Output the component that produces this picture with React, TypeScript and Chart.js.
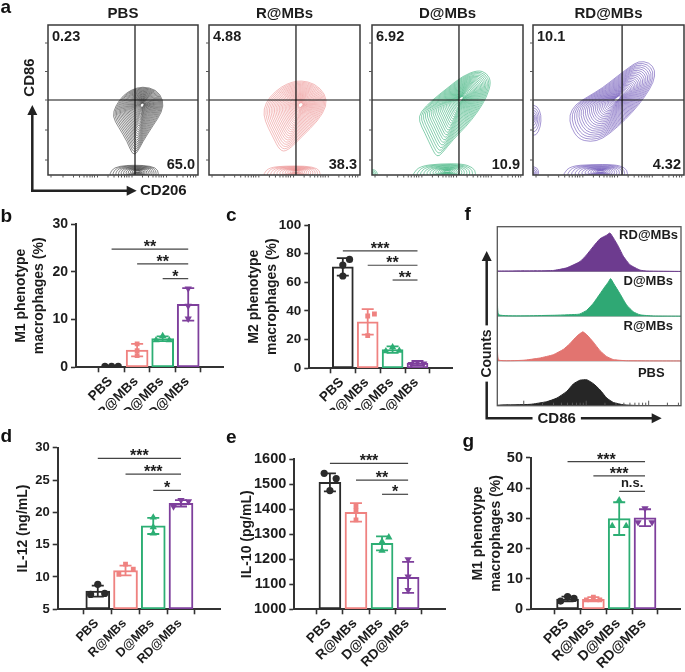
import React, { useEffect, useRef } from 'react';
import { Chart, registerables } from 'chart.js';
Chart.register(...registerables);

const FONT = 'Arial, "Liberation Sans", Helvetica, sans-serif';
const INK = '#1c1c1c';
const AXIS = '#333333';

// ---------- shared categories ----------
const groups = ['PBS', 'R@MBs', 'D@MBs', 'RD@MBs'];
const barColors = ['#2b2b2b', '#EF8280', '#2DAE74', '#7E3F9C'];
const pointStyles = ['circle', 'rect', 'triangle', 'triangle'];
const pointRotations = [0, 0, 0, 180];

// ---------- panel b : M1 (%) ----------
const bMean = [0.2, 3.6, 6.0, 13.2];
const bSD = [0.1, 1.3, 0.5, 3.4];
const bPoints = [[0.2, 0.2, 0.2], [4.9, 3.5, 2.45], [5.7, 6.6, 5.7], [16.5, 12.9, 10.2]];
const bJitter = [[-0.26, 0, 0.26], [0, 0, 0], [-0.26, 0, 0.26], [0, 0, 0]];
const bSigFrom = [1, 2, 3];
const bSigTo = [4, 4, 4];
const bSigY = [24.8, 21.7, 18.6];
const bSigText = ['**', '**', '*'];

// ---------- panel c : M2 (%) ----------
const cMean = [70.8, 32.4, 13.0, 3.6];
const cSD = [6.1, 8.9, 2.3, 1.5];
const cPoints = [[76, 72, 64.4], [37.9, 36.5, 22.8], [14.7, 11.9, 12.3], [4.4, 3.0, 3.3]];
const cJitter = [[0.27, 0, 0], [0.27, 0, 0], [0, -0.27, 0.27], [0, -0.25, 0.25]];
const cSigFrom = [1, 2, 3];
const cSigTo = [4, 4, 4];
const cSigY = [81.9, 71.9, 61.6];
const cSigText = ['***', '**', '**'];

// ---------- panel d : IL-12 ----------
const dMean = [7.8, 11.0, 17.9, 21.4];
const dSD = [0.85, 0.75, 1.25, 0.5];
const dPoints = [[8.87, 7.3, 7.45], [12.0, 10.4, 11.2], [19.2, 17.7, 16.75], [20.9, 21.9, 21.7]];
const dJitter = [[0, -0.26, 0.25], [0, -0.24, 0.28], [0, 0, 0], [-0.27, 0, 0.27]];
const dSigFrom = [1, 2, 3];
const dSigTo = [4, 4, 4];
const dSigY = [28.35, 25.9, 23.4];
const dSigText = ['***', '***', '*'];

// ---------- panel e : IL-10 ----------
const eMean = [1508, 1388, 1264, 1128];
const eSD = [36, 37, 28, 62];
const ePoints = [[1544, 1523, 1475], [1413, 1396, 1358], [1271, 1288, 1235], [1200, 1131, 1077]];
const eJitter = [[-0.22, 0.24, 0], [0, 0, 0], [0, 0.26, 0], [0, 0, 0]];
const eSigFrom = [1, 2, 3];
const eSigTo = [4, 4, 4];
const eSigY = [1584, 1517, 1460];
const eSigText = ['***', '**', '*'];

// ---------- panel g : M1 (%) ----------
const gMean = [3.4, 3.3, 29.9, 30.2];
const gSD = [0.8, 0.7, 5.4, 2.8];
const gPoints = [[4.2, 2.7, 3.6], [4.0, 3.1, 3.1], [36.0, 27.5, 27.5], [33.3, 28.7, 28.7]];
const gJitter = [[0, -0.27, 0.25], [0, -0.27, 0.25], [0, -0.27, 0.27], [0, -0.27, 0.27]];
const gSigFrom = [1, 2, 3];
const gSigTo = [4, 4, 4];
const gSigY = [48.7, 44, 38.9];
const gSigText = ['***', '***', 'n.s.'];

// ---------- panel a : flow cytometry (CD206 x, CD86 y; 0-100 display units) ----------
const flowTopLeft = ['0.23', '4.88', '6.92', '10.1'];
const flowBottomRight = ['65.0', '38.3', '10.9', '4.32'];
const flowGateX = [58, 57.6, 57.6, 59];
const flowGateY = 50;
const flowColors = ['#2a2a2a', '#E98585', '#22A86C', '#5B40AE'];
const flowYTicks = [10, 30, 50, 69, 88];
const flowXTicks = [2, 10, 17, 21, 24, 26, 28, 29.5, 31, 33, 40, 44, 47, 49, 51, 52.5, 54, 56, 63, 67, 70, 72, 74, 75.5, 77, 79, 86, 90, 93, 95, 97, 98.5];

const flowPbsCell = [[63, 59], [72, 57], [77, 50], [76, 42], [70, 33], [63, 22], [59, 14], [56, 14], [53, 22], [47, 32], [43, 39], [45, 46], [50, 53], [56, 57]];
const flowPbsCore = [63, 47];
const flowPbsFloor = [[41, 1], [44, 5], [52, 6.5], [64, 6.5], [72, 5], [74, 1], [72, -3], [42, -3]];
const flowPbsFloorCore = [60, 2.5];

const flowRCell = [[61, 63], [70, 61], [77, 54], [78, 46], [72, 36], [62, 26], [52, 16], [47, 16], [42, 26], [37, 36], [36, 44], [40, 52], [48, 59], [55, 62]];
const flowRCore = [61, 47];
const flowRFloor = [[36, 1], [40, 5], [50, 6], [64, 6], [72, 4.5], [74, 1], [72, -3], [37, -3]];
const flowRFloorCore = [58, 2.5];

const flowDCell = [[70, 70], [76, 68], [79, 62], [76, 52], [70, 42], [62, 32], [54, 24], [46, 14], [43, 12], [40, 17], [35, 28], [31, 36], [32, 42], [40, 50], [50, 58], [60, 66]];
const flowDCore = [59, 51];
const flowDFloor = [[27, 1], [32, 6], [45, 7.5], [60, 7.5], [67, 5], [69, 1], [67, -3], [28, -3]];
const flowDFloorCore = [50, 2.5];
const flowDCorner = [[-2, 4], [2, 3.5], [4, 1], [2, -2], [-2, -2]];
const flowDCornerCore = [0, 1];

const flowRdCell = [[70, 76], [77, 75], [81, 70], [80, 62], [74, 52], [66, 42], [56, 32], [46, 24], [38, 22], [30, 24], [25, 32], [24, 40], [28, 47], [36, 52], [46, 58], [56, 66], [64, 72]];
const flowRdCore = [56, 51];
const flowRdFloor = [[20, 1], [25, 6], [38, 7], [54, 7], [61, 5], [63, 1], [61, -3], [21, -3]];
const flowRdFloorCore = [45, 2.5];
const flowRdSide = [[-2, 47], [3, 46], [5.5, 40], [5, 32], [2, 26], [-2, 27]];
const flowRdSideCore = [0, 38];
const flowRdCorner = [[-2, 6], [3, 5], [4, 1], [2, -2], [-2, -2]];
const flowRdCornerCore = [0, 1];

const flowBlobs = [
  [{ pts: flowPbsCell, core: flowPbsCore, n: 26 }, { pts: flowPbsFloor, core: flowPbsFloorCore, n: 12 }],
  [{ pts: flowRCell, core: flowRCore, n: 26 }, { pts: flowRFloor, core: flowRFloorCore, n: 12 }],
  [{ pts: flowDCell, core: flowDCore, n: 26 }, { pts: flowDFloor, core: flowDFloorCore, n: 12 }, { pts: flowDCorner, core: flowDCornerCore, n: 4 }],
  [{ pts: flowRdCell, core: flowRdCore, n: 26 }, { pts: flowRdFloor, core: flowRdFloorCore, n: 12 }, { pts: flowRdSide, core: flowRdSideCore, n: 6 }, { pts: flowRdCorner, core: flowRdCornerCore, n: 5 }],
];

// ---------- panel f : CD86 histograms (x 0-100, height as fraction of lane) ----------
const histLaneNames = ['PBS', 'R@MBs', 'D@MBs', 'RD@MBs'];
const histColors = ['#262626', '#E27470', '#2FA874', '#6D3B8F'];
const histXPbs = [0, 1.5, 17.8, 26.9, 32.4, 37.8, 41.5, 45, 48.7, 52.4, 56, 59.6, 63.3, 68.7, 76, 100];
const histYPbs = [0.01, 0.015, 0.03, 0.09, 0.17, 0.32, 0.49, 0.57, 0.58, 0.49, 0.35, 0.17, 0.07, 0.02, 0.005, 0];
const histXR = [0, 0.8, 14, 23, 30.5, 36, 39.6, 43.2, 46.5, 48.6, 52.3, 55.9, 59.5, 63.2, 70.4, 100];
const histYR = [0.31, 0.02, 0.015, 0.065, 0.14, 0.26, 0.39, 0.55, 0.65, 0.59, 0.42, 0.23, 0.1, 0.03, 0.005, 0];
const histXD = [0, 0.8, 30, 43.2, 45, 48.6, 52.3, 55.9, 58.6, 60.4, 61.7, 63.2, 66.8, 70.4, 74, 77.7, 84.9, 100];
const histYD = [0.4, 0.03, 0.02, 0.04, 0.05, 0.13, 0.29, 0.5, 0.66, 0.76, 0.84, 0.74, 0.5, 0.25, 0.1, 0.03, 0.005, 0];
const histXRd = [0, 30, 37.7, 45, 48.6, 52.3, 55.9, 59.5, 61.3, 63.2, 65.9, 68.6, 72.2, 77.7, 81.3, 100];
const histYRd = [0.01, 0.02, 0.08, 0.22, 0.37, 0.56, 0.73, 0.81, 0.86, 0.75, 0.56, 0.34, 0.15, 0.03, 0.01, 0];
const histTicks = [14.4, 24.6, 30.6, 34.9, 38.2, 40.9, 43.1, 45.1, 46.8, 48.4, 58.6, 64.6, 68.9, 72.2, 74.9, 77.1, 79.1, 80.8, 82.4, 92.6, 98.6];
const histMajorTicks = [14.4, 48.4, 82.4];

// ---------- helpers ----------
function drawLetter(ctx: CanvasRenderingContext2D, ch: string, x: number, y: number) {
  ctx.save();
  ctx.fillStyle = '#111';
  ctx.font = `bold 19px ${FONT}`;
  ctx.textAlign = 'left';
  ctx.textBaseline = 'alphabetic';
  ctx.fillText(ch, x, y);
  ctx.restore();
}

function smoothClosed(ctx: CanvasRenderingContext2D, pts: number[][]) {
  const n = pts.length;
  const mid = (a: number[], b: number[]) => [(a[0] + b[0]) / 2, (a[1] + b[1]) / 2];
  ctx.beginPath();
  const m0 = mid(pts[n - 1], pts[0]);
  ctx.moveTo(m0[0], m0[1]);
  for (let i = 0; i < n; i++) {
    const p = pts[i];
    const m = mid(p, pts[(i + 1) % n]);
    ctx.quadraticCurveTo(p[0], p[1], m[0], m[1]);
  }
  ctx.closePath();
  ctx.stroke();
}

function arrowHead(ctx: CanvasRenderingContext2D, tipX: number, tipY: number, dir: 'up' | 'right', len = 9, half = 4.5) {
  ctx.beginPath();
  if (dir === 'up') {
    ctx.moveTo(tipX, tipY);
    ctx.lineTo(tipX - half, tipY + len);
    ctx.lineTo(tipX + half, tipY + len);
  } else {
    ctx.moveTo(tipX, tipY);
    ctx.lineTo(tipX - len, tipY - half);
    ctx.lineTo(tipX - len, tipY + half);
  }
  ctx.closePath();
  ctx.fill();
}

function ChartCanvas({ left, top, width, height, make }: any) {
  const ref = useRef<HTMLCanvasElement | null>(null);
  useEffect(() => {
    const chart = new Chart(ref.current as HTMLCanvasElement, make());
    return () => chart.destroy();
  }, []);
  return (
    <canvas
      ref={ref}
      width={width}
      height={height}
      style={{ position: 'absolute', left, top, width, height }}
    />
  );
}

// ---------- bar panel ----------
function barConfig(p: any) {
  const L = p.layout;
  const extras = {
    id: 'barExtras',
    afterDatasetDraw(chart: any, args: any) {
      if (args.index !== 0) return;
      const { ctx, scales } = chart;
      const x = scales.x, y = scales.y;
      ctx.save();
      p.mean.forEach((m: number, i: number) => {
        const px = x.getPixelForValue(i + 1);
        const top = y.getPixelForValue(m + p.sd[i]);
        const bot = y.getPixelForValue(Math.max(m - p.sd[i], p.yMin));
        ctx.strokeStyle = barColors[i];
        ctx.lineWidth = 1.8;
        ctx.beginPath();
        ctx.moveTo(px, top); ctx.lineTo(px, bot);
        ctx.moveTo(px - 6, top); ctx.lineTo(px + 6, top);
        if (m - p.sd[i] > p.yMin) { ctx.moveTo(px - 6, bot); ctx.lineTo(px + 6, bot); }
        ctx.stroke();
      });
      ctx.restore();
    },
    afterDraw(chart: any) {
      const { ctx, scales, chartArea } = chart;
      const x = scales.x, y = scales.y;
      ctx.save();
      // significance brackets
      p.sigFrom.forEach((f: number, i: number) => {
        const x1 = x.getPixelForValue(f);
        const x2 = x.getPixelForValue(p.sigTo[i]);
        const py = y.getPixelForValue(p.sigY[i]);
        ctx.strokeStyle = '#444';
        ctx.lineWidth = 1.2;
        ctx.beginPath(); ctx.moveTo(x1, py); ctx.lineTo(x2, py); ctx.stroke();
        ctx.fillStyle = INK;
        ctx.textAlign = 'center';
        ctx.textBaseline = 'alphabetic';
        if (p.sigText[i] === 'n.s.') {
          ctx.font = `bold 13px ${FONT}`;
          ctx.fillText(p.sigText[i], (x1 + x2) / 2, py - 4);
        } else {
          ctx.font = `bold 16px ${FONT}`;
          ctx.fillText(p.sigText[i], (x1 + x2) / 2, py + 3);
        }
      });
      // rotated category labels
      ctx.fillStyle = INK;
      ctx.font = `bold ${L.xfs}px ${FONT}`;
      ctx.textAlign = 'right';
      ctx.textBaseline = 'middle';
      groups.forEach((g, i) => {
        const px = x.getPixelForValue(i + 1);
        ctx.save();
        ctx.translate(px - 1, chartArea.bottom + 12);
        ctx.rotate(-Math.PI / 4);
        ctx.fillText(g, 0, 0);
        ctx.restore();
      });
      ctx.restore();
      drawLetter(ctx, p.letter, L.letterX, L.letterY);
    },
  };
  const tickFont = { family: FONT, size: L.fs, weight: 'bold' as const };
  return {
    type: 'bar',
    data: {
      datasets: [
        {
          type: 'bar',
          data: p.mean.map((m: number, i: number) => ({ x: i + 1, y: m })),
          backgroundColor: '#ffffff',
          borderColor: barColors,
          borderWidth: 2,
          borderSkipped: false,
          barThickness: L.barW,
          base: p.yMin,
          order: 2,
        },
        ...groups.map((g, i) => ({
          type: 'scatter',
          label: g,
          data: p.points[i].map((v: number, j: number) => ({ x: i + 1 + p.jitter[i][j], y: v })),
          pointStyle: pointStyles[i],
          pointRotation: pointRotations[i],
          pointRadius: i === 0 ? 3.6 : i === 1 ? 3.4 : 4.2,
          pointBackgroundColor: barColors[i],
          pointBorderColor: barColors[i],
          pointBorderWidth: 0,
          order: 1,
        })),
      ],
    },
    options: {
      responsive: false,
      animation: false,
      devicePixelRatio: 1,
      layout: { padding: { top: L.padTop, right: L.padRight, left: 0, bottom: 0 } },
      plugins: { legend: { display: false }, tooltip: { enabled: false } },
      scales: {
        x: {
          type: 'linear',
          min: L.xMin,
          max: L.xMax,
          afterBuildTicks: (ax: any) => { ax.ticks = [1, 2, 3, 4].map((v) => ({ value: v })); },
          afterFit: (ax: any) => { ax.height = L.xAxisH; },
          grid: { drawOnChartArea: false, drawTicks: true, tickLength: 5, color: AXIS, tickWidth: 1.6 },
          border: { display: true, color: AXIS, width: 2 },
          ticks: { display: false },
        },
        y: {
          min: p.yMin,
          max: p.yMax,
          afterFit: (ax: any) => { ax.width = L.axisW; },
          ticks: { stepSize: p.yStep, padding: 3, color: INK, font: tickFont, callback: (v: any) => String(v) },
          grid: { drawOnChartArea: false, drawTicks: true, tickLength: 5, color: AXIS, tickWidth: 1.6 },
          border: { display: true, color: AXIS, width: 2 },
          title: {
            display: true,
            text: p.title,
            color: INK,
            font: { family: FONT, size: 14, weight: 'bold', lineHeight: '17.5px' },
            padding: { top: L.titlePad, bottom: 0 },
          },
        },
      },
    },
    plugins: [extras],
  };
}

// ---------- flow panel ----------
function flowConfig(idx: number, padLeft: number, padRight: number, isFirst: boolean) {
  const plug = {
    id: 'flow' + idx,
    beforeDatasetsDraw(chart: any) {
      const { ctx, chartArea: ca, scales } = chart;
      const x = scales.x, y = scales.y;
      ctx.save();
      ctx.beginPath();
      ctx.rect(ca.left, ca.top, ca.width, ca.height);
      ctx.clip();
      ctx.strokeStyle = flowColors[idx];
      ctx.lineWidth = 0.65;
      ctx.globalAlpha = 0.85;
      flowBlobs[idx].forEach((b: any) => {
        for (let k = 1; k <= b.n; k++) {
          const s = 0.06 + 0.94 * Math.pow(k / b.n, 1.35);
          const pts = b.pts.map((q: number[]) => [
            x.getPixelForValue(b.core[0] + (q[0] - b.core[0]) * s),
            y.getPixelForValue(b.core[1] + (q[1] - b.core[1]) * s),
          ]);
          smoothClosed(ctx, pts);
        }
      });
      ctx.restore();
    },
    afterDraw(chart: any) {
      const { ctx, chartArea: ca, scales } = chart;
      const x = scales.x, y = scales.y;
      ctx.save();
      // gates
      ctx.strokeStyle = '#111';
      ctx.lineWidth = 1.2;
      const gx = x.getPixelForValue(flowGateX[idx]);
      const gy = y.getPixelForValue(flowGateY);
      ctx.beginPath();
      ctx.moveTo(gx, ca.top); ctx.lineTo(gx, ca.bottom);
      ctx.moveTo(ca.left, gy); ctx.lineTo(ca.right, gy);
      ctx.stroke();
      // box
      ctx.strokeStyle = '#3a3a3a';
      ctx.lineWidth = 1.5;
      ctx.strokeRect(ca.left, ca.top, ca.width, ca.height);
      // ticks
      ctx.lineWidth = 1;
      ctx.strokeStyle = '#555';
      ctx.beginPath();
      flowYTicks.forEach((v) => { const py = y.getPixelForValue(v); ctx.moveTo(ca.left, py); ctx.lineTo(ca.left - 3, py); });
      flowXTicks.forEach((v) => { const px = x.getPixelForValue(v); ctx.moveTo(px, ca.bottom); ctx.lineTo(px, ca.bottom + 2.5); });
      ctx.stroke();
      // texts
      ctx.fillStyle = INK;
      ctx.font = `bold 15px ${FONT}`;
      ctx.textAlign = 'center';
      ctx.textBaseline = 'middle';
      ctx.fillText(groups[idx], (ca.left + ca.right) / 2, ca.top - 11);
      ctx.font = `bold 14.5px ${FONT}`;
      ctx.textAlign = 'left';
      ctx.textBaseline = 'top';
      ctx.fillText(flowTopLeft[idx], ca.left + 4, ca.top + 5);
      ctx.textAlign = 'right';
      ctx.textBaseline = 'alphabetic';
      ctx.fillText(flowBottomRight[idx], ca.right - 3, ca.bottom - 6.5);
      if (isFirst) {
        ctx.strokeStyle = '#222';
        ctx.fillStyle = '#222';
        ctx.lineWidth = 2.5;
        ctx.beginPath();
        ctx.moveTo(32.3, 192); ctx.lineTo(32.3, 112);
        ctx.moveTo(31, 190.7); ctx.lineTo(128, 190.7);
        ctx.stroke();
        arrowHead(ctx, 32.3, 105, 'up', 10, 5);
        arrowHead(ctx, 136.7, 190.7, 'right', 10, 5);
        ctx.fillStyle = INK;
        ctx.font = `bold 15px ${FONT}`;
        ctx.textAlign = 'left';
        ctx.textBaseline = 'middle';
        ctx.fillText('CD206', 140, 191);
        ctx.save();
        ctx.translate(29.5, 77.5);
        ctx.rotate(-Math.PI / 2);
        ctx.textAlign = 'center';
        ctx.fillText('CD86', 0, 0);
        ctx.restore();
        drawLetter(ctx, 'a', 0.5, 12.7);
      }
      ctx.restore();
    },
  };
  return {
    type: 'scatter',
    data: { datasets: [{ data: [] as any[] }] },
    options: {
      responsive: false,
      animation: false,
      devicePixelRatio: 1,
      layout: { padding: { top: 25, bottom: 25, left: padLeft, right: padRight } },
      plugins: { legend: { display: false }, tooltip: { enabled: false } },
      scales: {
        x: { type: 'linear', min: 0, max: 100, display: false },
        y: { type: 'linear', min: 0, max: 100, display: false },
      },
    },
    plugins: [plug],
  };
}

// ---------- histogram panel ----------
function histConfig() {
  const xs = [histXPbs, histXR, histXD, histXRd];
  const ys = [histYPbs, histYR, histYD, histYRd];
  const plug = {
    id: 'hist',
    beforeDatasetsDraw(chart: any) {
      const { ctx, chartArea: ca, scales } = chart;
      ctx.save();
      ctx.strokeStyle = '#9a9a9a';
      ctx.lineWidth = 1;
      ctx.beginPath();
      [1, 2, 3].forEach((v) => { const py = scales.y.getPixelForValue(v); ctx.moveTo(ca.left, py); ctx.lineTo(ca.right, py); });
      ctx.stroke();
      ctx.restore();
    },
    afterDraw(chart: any) {
      const { ctx, chartArea: ca, scales } = chart;
      const x = scales.x;
      ctx.save();
      ctx.strokeStyle = '#555';
      ctx.lineWidth = 1.3;
      ctx.strokeRect(ca.left, ca.top, ca.width, ca.height);
      ctx.lineWidth = 1;
      ctx.beginPath();
      histTicks.forEach((v) => {
        const px = x.getPixelForValue(v);
        const len = histMajorTicks.includes(v) ? 5 : 3;
        ctx.moveTo(px, ca.bottom); ctx.lineTo(px, ca.bottom - len);
      });
      ctx.stroke();
      // lane labels
      ctx.fillStyle = INK;
      ctx.font = `bold 13px ${FONT}`;
      ctx.textBaseline = 'middle';
      ctx.textAlign = 'right';
      ctx.fillText(histLaneNames[3], ca.right - 3, ca.top + 9);
      const lane = ca.height / 4;
      ctx.fillText(histLaneNames[2], ca.right - 8, ca.top + lane + 9.5);
      ctx.fillText(histLaneNames[1], ca.right - 8, ca.top + 2 * lane + 10.5);
      ctx.textAlign = 'center';
      ctx.fillText(histLaneNames[0], ca.left + 154, ca.top + 3 * lane + 12);
      // axis arrows
      ctx.strokeStyle = '#222';
      ctx.fillStyle = '#222';
      ctx.lineWidth = 2.5;
      ctx.beginPath();
      ctx.moveTo(46.7, 224.5); ctx.lineTo(46.7, 64);
      ctx.moveTo(45.5, 223.3); ctx.lineTo(213, 223.3);
      ctx.stroke();
      arrowHead(ctx, 46.7, 56, 'up', 10, 5);
      arrowHead(ctx, 221.7, 223.3, 'right', 10, 5);
      ctx.font = `bold 15px ${FONT}`;
      ctx.textBaseline = 'middle';
      ctx.textAlign = 'center';
      const w = ctx.measureText('CD86').width;
      ctx.fillStyle = '#fff';
      ctx.fillRect(116.7 - w / 2 - 5, 214, w + 10, 18);
      ctx.fillStyle = INK;
      ctx.fillText('CD86', 116.7, 224);
      ctx.save();
      ctx.translate(46.7, 158.5);
      ctx.rotate(-Math.PI / 2);
      ctx.font = `bold 14px ${FONT}`;
      const w2 = ctx.measureText('Counts').width;
      ctx.fillStyle = '#fff';
      ctx.fillRect(-w2 / 2 - 4, -9, w2 + 8, 18);
      ctx.fillStyle = INK;
      ctx.fillText('Counts', 0, 0.5);
      ctx.restore();
      drawLetter(ctx, 'f', 24.5, 25);
      ctx.restore();
    },
  };
  return {
    type: 'line',
    data: {
      datasets: histLaneNames.map((name, i) => ({
        label: name,
        data: xs[i].map((v, j) => ({ x: v, y: i + ys[i][j] })),
        borderColor: histColors[i],
        backgroundColor: histColors[i],
        borderWidth: 1,
        pointRadius: 0,
        tension: 0.15,
        fill: { value: i },
      })),
    },
    options: {
      responsive: false,
      animation: false,
      devicePixelRatio: 1,
      layout: { padding: { left: 57.3, top: 31.7, right: 4, bottom: 24.3 } },
      plugins: { legend: { display: false }, tooltip: { enabled: false } },
      scales: {
        x: { type: 'linear', min: 0, max: 100, display: false },
        y: { type: 'linear', min: 0, max: 4, display: false },
      },
    },
    plugins: [plug],
  };
}

// ---------- panel definitions ----------
const panelB = {
  mean: bMean, sd: bSD, points: bPoints, jitter: bJitter,
  sigFrom: bSigFrom, sigTo: bSigTo, sigY: bSigY, sigText: bSigText,
  yMin: 0, yMax: 30, yStep: 10, title: ['M1 phenotype', 'macrophages (%)'], letter: 'b',
  layout: { axisW: 76, padTop: 29.3, padRight: 4, xAxisH: 42.7, xMin: 0.33, xMax: 4.67, barW: 22, fs: 14, xfs: 13.5, titlePad: 12.75, letterX: 0.5, letterY: 26.7 },
};
const panelC = {
  mean: cMean, sd: cSD, points: cPoints, jitter: cJitter,
  sigFrom: cSigFrom, sigTo: cSigTo, sigY: cSigY, sigText: cSigText,
  yMin: 0, yMax: 100, yStep: 20, title: ['M2 phenotype', 'macrophages (%)'], letter: 'c',
  layout: { axisW: 89.3, padTop: 30, padRight: 6, xAxisH: 41.7, xMin: 0.37, xMax: 4.67, barW: 21, fs: 13.5, xfs: 13.5, titlePad: 25.5, letterX: 6, letterY: 25.7 },
};
const panelD = {
  mean: dMean, sd: dSD, points: dPoints, jitter: dJitter,
  sigFrom: dSigFrom, sigTo: dSigTo, sigY: dSigY, sigText: dSigText,
  yMin: 5, yMax: 30, yStep: 5, title: 'IL-12 (ng/mL)', letter: 'd',
  layout: { axisW: 57.7, padTop: 22.7, padRight: 3.3, xAxisH: 62.7, xMin: 0.29, xMax: 4.7, barW: 24, fs: 13, xfs: 12.6, titlePad: 14.5, letterX: 0.5, letterY: 16.7 },
};
const panelE = {
  mean: eMean, sd: eSD, points: ePoints, jitter: eJitter,
  sigFrom: eSigFrom, sigTo: eSigTo, sigY: eSigY, sigText: eSigText,
  yMin: 1000, yMax: 1600, yStep: 100, title: 'IL-10 (pg/mL)', letter: 'e',
  layout: { axisW: 69.3, padTop: 34.3, padRight: 3, xAxisH: 62.7, xMin: 0.36, xMax: 4.72, barW: 22, fs: 14.5, xfs: 13.6, titlePad: 13, letterX: 1, letterY: 17.7 },
};
const panelG = {
  mean: gMean, sd: gSD, points: gPoints, jitter: gJitter,
  sigFrom: gSigFrom, sigTo: gSigTo, sigY: gSigY, sigText: gSigText,
  yMin: 0, yMax: 50, yStep: 10, title: ['M1 phenotype', 'macrophages (%)'], letter: 'g',
  layout: { axisW: 81, padTop: 32.7, padRight: 2.7, xAxisH: 62.7, xMin: 0.31, xMax: 4.66, barW: 22, fs: 14.5, xfs: 14, titlePad: 19.5, letterX: 12.5, letterY: 21.6 },
};

export default function App() {
  return (
    <div style={{ position: 'absolute', left: 0, top: 0, width: 685, height: 672, background: '#ffffff', overflow: 'hidden' }}>
      <ChartCanvas left={0} top={0} width={205} height={200} make={() => flowConfig(0, 48, 7, true)} />
      <ChartCanvas left={200} top={0} width={165} height={200} make={() => flowConfig(1, 9, 5, false)} />
      <ChartCanvas left={363} top={0} width={165} height={200} make={() => flowConfig(2, 9, 5, false)} />
      <ChartCanvas left={524} top={0} width={161} height={200} make={() => flowConfig(3, 9, 1, false)} />
      <ChartCanvas left={0} top={195} width={228} height={215} make={() => barConfig(panelB)} />
      <ChartCanvas left={220} top={195} width={238} height={215} make={() => barConfig(panelC)} />
      <ChartCanvas left={440} top={195} width={245} height={235} make={() => histConfig()} />
      <ChartCanvas left={0} top={425} width={225} height={247} make={() => barConfig(panelD)} />
      <ChartCanvas left={225} top={425} width={225} height={247} make={() => barConfig(panelE)} />
      <ChartCanvas left={450} top={425} width={235} height={247} make={() => barConfig(panelG)} />
    </div>
  );
}
